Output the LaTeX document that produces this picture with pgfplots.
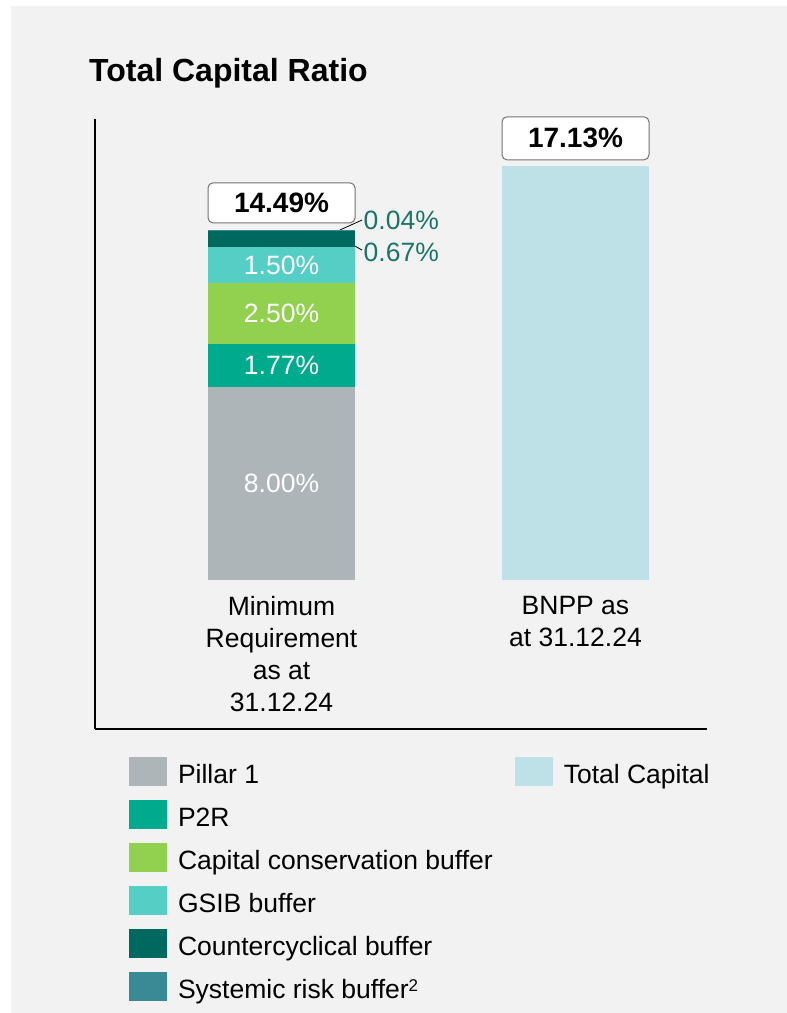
\documentclass[border=0pt]{standalone}
\usepackage{fontspec}
\setmainfont{Liberation Sans}
\usepackage{pgfplots}
\pgfplotsset{compat=1.18}

\definecolor{panel}{HTML}{F2F2F2}
\definecolor{pillar}{HTML}{ADB5B9}
\definecolor{ptwor}{HTML}{00AA8C}
\definecolor{ccb}{HTML}{92D050}
\definecolor{gsib}{HTML}{55CFC6}
\definecolor{ccyb}{HTML}{00695F}
\definecolor{srb}{HTML}{3A8A96}
\definecolor{total}{HTML}{BDE1E6}
\definecolor{tealtext}{HTML}{1B7468}

\pgfplotsset{
  sq/.style={fill=#1, draw=none,
    legend image code/.code={\fill[##1] (0pt,-3pt) rectangle (38pt,26pt);}},
}

\newcommand{\lbl}{\fontsize{26.5}{32}\selectfont}

\begin{document}
\begin{tikzpicture}
% background panel
\fill[white] (0pt,0pt) rectangle (787pt,1013pt);
\fill[panel] (11pt,0pt) rectangle (787pt,1007pt);

\node[anchor=base west, inner sep=0pt, font=\bfseries\fontsize{32}{38}\selectfont]
  at (89pt,931pt) {Total Capital Ratio};

\begin{axis}[
  at={(95pt,284pt)}, anchor=south west,
  width=612pt, height=610pt, scale only axis,
  ybar stacked, bar width=147pt,
  xmin=-0.6344, xmax=1.4473, ymin=-6.165, ymax=19.07,
  axis lines=left,
  axis line style={-, line width=1.6pt, black},
  xtick=\empty, ytick=\empty,
  clip=false,
  legend cell align=left,
  legend columns=2,
  legend style={at={(0.0556,-0.0459)}, anchor=north west,
    draw=none, fill=none, inner sep=0pt, outer sep=0pt,
    font=\lbl, row sep=14pt,
    cells={anchor=base west},
    nodes={inner sep=0pt, text height=26pt, text depth=3pt},
    /tikz/every odd column/.append style={column sep=11pt},
    /tikz/column 2/.append style={column sep=22pt}},
]

\addplot[sq=pillar, forget plot] coordinates {(0,8.00) (1,0)};
\addplot[sq=ptwor, forget plot]  coordinates {(0,1.77) (1,0)};
\addplot[sq=ccb, forget plot]    coordinates {(0,2.50) (1,0)};
\addplot[sq=gsib, forget plot]   coordinates {(0,1.50) (1,0)};
\addplot[sq=ccyb, forget plot]   coordinates {(0,0.67) (1,0)};
\addplot[sq=srb, forget plot]    coordinates {(0,0.04) (1,0)};
\addplot[sq=total, forget plot]  coordinates {(0,0) (1,17.13)};

% legend, filled row by row
\addlegendimage{sq=pillar} \addlegendentry{Pillar 1}
\addlegendimage{sq=total}  \addlegendentry{Total Capital}
\addlegendimage{sq=ptwor}  \addlegendentry{P2R}
\addlegendimage{empty legend} \addlegendentry{}
\addlegendimage{sq=ccb}    \addlegendentry{Capital conservation buffer}
\addlegendimage{empty legend} \addlegendentry{}
\addlegendimage{sq=gsib}   \addlegendentry{GSIB buffer}
\addlegendimage{empty legend} \addlegendentry{}
\addlegendimage{sq=ccyb}   \addlegendentry{Countercyclical buffer}
\addlegendimage{empty legend} \addlegendentry{}
\addlegendimage{sq=srb}    \addlegendentry{Systemic risk buffer\raisebox{7pt}{\fontsize{17}{17}\selectfont 2}}

\coordinate (v1) at (axis cs:0,4.0);
\coordinate (v2) at (axis cs:0,8.885);
\coordinate (v3) at (axis cs:0,11.02);
\coordinate (v4) at (axis cs:0,13.02);

% totals
\node[draw=black!55, line width=1pt, rounded corners=5pt, fill=white,
  minimum width=147pt, minimum height=40pt,
  font=\bfseries\fontsize{28}{32}\selectfont] at (axis cs:0,15.6) {14.49\%};
\node[draw=black!55, line width=1pt, rounded corners=5pt, fill=white,
  minimum width=147pt, minimum height=43pt,
  font=\bfseries\fontsize{28}{32}\selectfont] at (axis cs:1,18.27) {17.13\%};

% small buffers
\draw[line width=0.8pt] (axis cs:0.199,14.48) -- (axis cs:0.274,14.89);
\draw[line width=0.8pt] (axis cs:0.199,14.15) -- (axis cs:0.274,13.65);
\node[anchor=west, inner sep=0pt, text=tealtext, font=\lbl] at (axis cs:0.279,14.89) {0.04\%};
\node[anchor=west, inner sep=0pt, text=tealtext, font=\lbl] at (axis cs:0.279,13.57) {0.67\%};

% categories
\node[anchor=north, align=center, inner sep=0pt, font=\lbl] at (axis cs:0,-0.662)
  {Minimum\\Requirement\\as at\\31.12.24};
\node[anchor=north, align=center, inner sep=0pt, font=\lbl] at (axis cs:1,-0.662)
  {BNPP as\\at 31.12.24};
\end{axis}

% values inside the bar, on top of the stacked bars
\node[text=white, font=\lbl] at (v1) {8.00\%};
\node[text=white, font=\lbl] at (v2) {1.77\%};
\node[text=white, font=\lbl] at (v3) {2.50\%};
\node[text=white, font=\lbl] at (v4) {1.50\%};
\end{tikzpicture}
\end{document}
